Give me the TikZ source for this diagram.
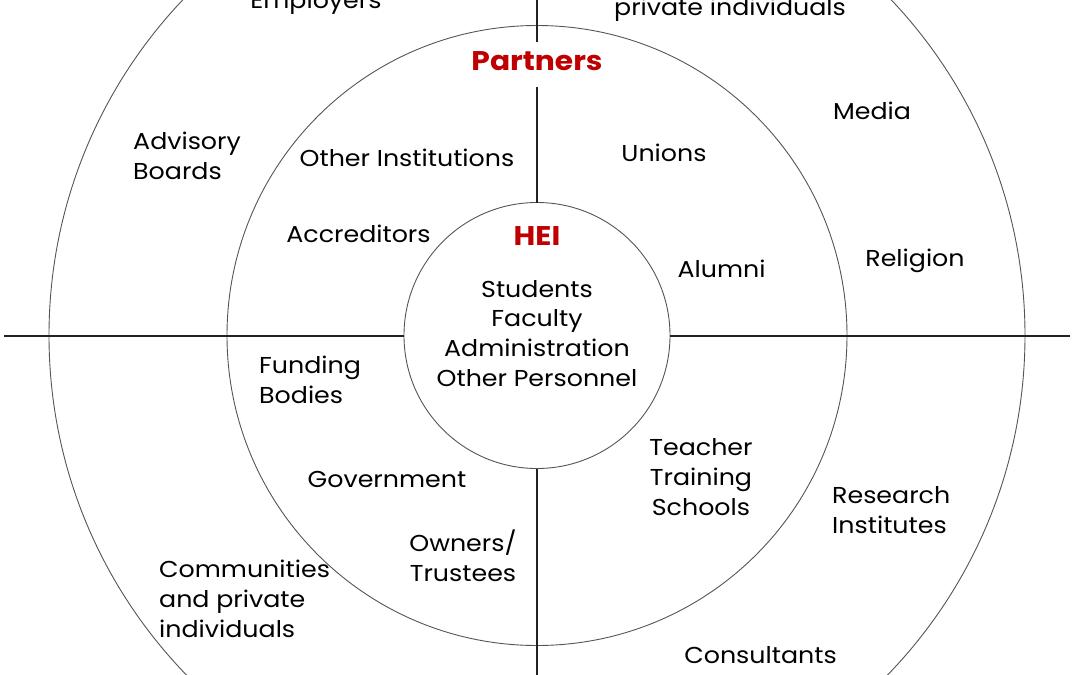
\documentclass[tikz,border=0pt]{standalone}
\usepackage{fontspec}
\setmainfont[FakeStretch=1.1]{Poppins}
\definecolor{hred}{HTML}{C00000}
\definecolor{axisc}{HTML}{222222}
\definecolor{ringc}{HTML}{555555}
\begin{document}
\begin{tikzpicture}[x=1pt,y=-1pt,
  ring/.style={circle,draw=ringc,line width=0.9pt,inner sep=0pt,outer sep=0pt},
  axis/.style={draw=axisc,line width=2pt},
  lbl/.style={font=\fontsize{23}{29.6}\selectfont,inner sep=0pt,anchor=base},
  lblc/.style={lbl,align=center},
  lbll/.style={lbl,align=left,anchor=base west},
  head/.style={font=\fontsize{27}{30}\selectfont\bfseries,text=hred,inner sep=0pt,anchor=base}]
\useasboundingbox (0,0) rectangle (1080,675);
\clip (0,0) rectangle (1080,675);
\node[ring,minimum size=976pt] (outer) at (537,335.5) {};
\node[ring,minimum size=620pt] (mid) at (537,335.5) {};
\node[ring,minimum size=266pt] (inner) at (537,335.5) {};
\coordinate (L) at (4,335.5);
\coordinate (R) at (1070,335.5);
\coordinate (T) at (537,-2);
\coordinate (B) at (537,677);
\coordinate (pa) at (537,42);
\coordinate (pb) at (537,87);
\draw[axis] (L) -- (inner.west);
\draw[axis] (inner.east) -- (R);
\draw[axis] (T) -- (pa);
\draw[axis] (pb) -- (inner.north);
\draw[axis] (inner.south) -- (B);
% headings
\node[head] (partners) at (537,70) {Partners};
\node[head] (hei) at (537,245) {HEI};
\node[lblc] (members) at (537,386) {Students\\Faculty\\Administration\\Other Personnel};
% outer ring
\node[lbl] (employers) at (316,8) {Employers};
\node[lbl] (privind) at (730,15) {private individuals};
\node[lbl] (media) at (872,119) {Media};
\node[lbll] (advisory) at (133,179) {Advisory\\Boards};
\node[lbl] (religion) at (915,266) {Religion};
\node[lbll] (research) at (832,533) {Research\\Institutes};
\node[lbll] (communities) at (159,637) {Communities\\and private\\individuals};
\node[lbl] (consultants) at (760.5,663) {Consultants};
% middle ring
\node[lbl] (otherinst) at (407,166) {Other Institutions};
\node[lbl] (unions) at (664,161) {Unions};
\node[lbl] (accred) at (358.5,242) {Accreditors};
\node[lbl] (alumni) at (721.5,277) {Alumni};
\node[lbll] (funding) at (259,403) {Funding\\Bodies};
\node[lbl] (gov) at (387,487) {Government};
\node[lblc] (owners) at (463,581) {Owners/\\Trustees};
\node[lblc] (teacher) at (701,515) {Teacher\\Training\\Schools};
\end{tikzpicture}
\end{document}
